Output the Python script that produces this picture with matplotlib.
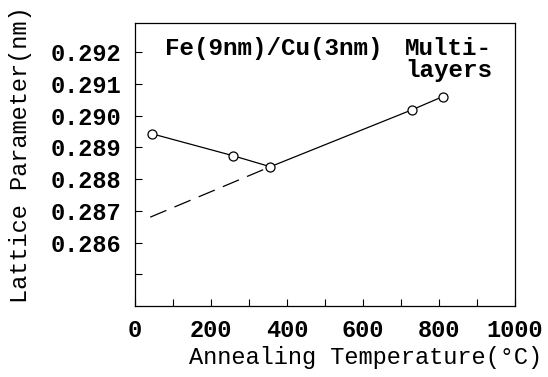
import matplotlib
matplotlib.use("Agg")
import matplotlib.pyplot as plt

# data
temps = [44, 257, 356, 728, 810]
lattice = [0.28943, 0.28874, 0.28839, 0.29018, 0.29060]
dash_temps = [40, 356]
dash_lattice = [0.28680, 0.28839]

yticks = [0.285, 0.286, 0.287, 0.288, 0.289, 0.290, 0.291, 0.292]
ytick_labels = ["", "0.286", "0.287", "0.288", "0.289", "0.290", "0.291", "0.292"]
xticks = [0, 200, 400, 600, 800, 1000]
xminor = [100, 300, 500, 700, 900]

plt.rcParams.update({
    "font.family": "Liberation Mono",
    "font.size": 17,
})

fig = plt.figure(figsize=(5.48, 3.77), dpi=100)
ax = fig.add_axes([0.2464, 0.1883, 0.6934, 0.7507])

ax.plot(dash_temps, dash_lattice, color="black", lw=0.9, ls=(0, (14, 7)))
ax.plot(temps, lattice, color="black", lw=0.9, marker="o", ms=6.5,
        mfc="white", mec="black", mew=0.9)

ax.set_xlim(0, 1000)
ax.set_ylim(0.284, 0.29292)

ax.set_xticks(xticks)
ax.set_xticks(xminor, minor=True)
ax.set_yticks(yticks)
ax.set_yticklabels(ytick_labels, fontweight="bold")
ax.set_xticklabels([str(t) for t in xticks], fontweight="bold")
ax.tick_params(which="both", direction="in", length=5, width=0.8,
               top=False, right=False)
ax.tick_params(axis="y", pad=10)
ax.tick_params(axis="x", pad=9)

for s in ax.spines.values():
    s.set_linewidth(0.9)

ax.set_xlabel("Annealing Temperature(°C)")
ax.xaxis.set_label_coords(0.608, -0.14)
ax.set_ylabel("Lattice Parameter(nm)")
ax.yaxis.set_label_coords(-0.27, 0.535)

ax.text(79, 0.29213, "Fe(9nm)/Cu(3nm)", fontweight="bold", fontsize=17.5, va="center")
ax.text(940, 0.29213, "Multi-", fontweight="bold", fontsize=17.5, va="center", ha="right")
ax.text(940, 0.29143, "layers", fontweight="bold", fontsize=17.5, va="center", ha="right")

fig.savefig("out.png", dpi=100)
